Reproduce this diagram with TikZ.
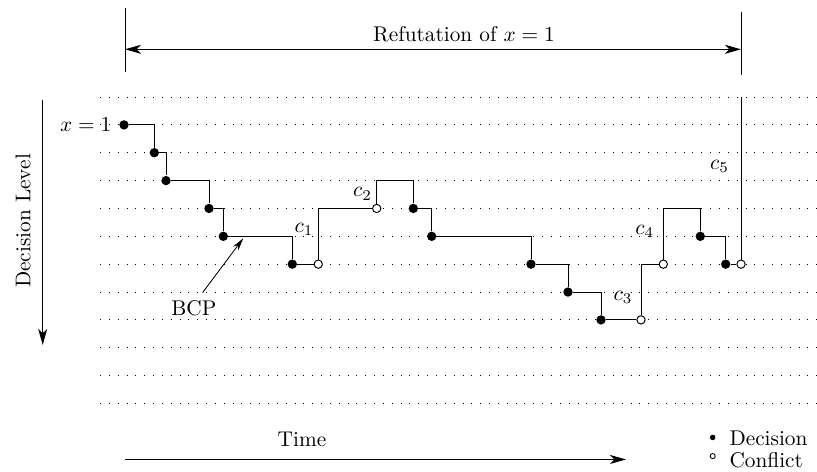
\documentclass[tikz,border=0pt]{standalone}
\usepackage{amsmath}
\usetikzlibrary{positioning}
\usetikzlibrary{arrows.meta}

\begin{document}
\begin{tikzpicture}
    [x=0.0165cm, y=-0.4595cm,
    decision/.style={circle, fill=black, inner sep=0pt, minimum size=4.4pt},
    conflict/.style={circle, draw, fill=white, inner sep=0pt, minimum size=3.9pt, line width=0.45pt},
    keydot/.style={circle, fill=black, inner sep=0pt, minimum size=2.6pt},
    keyring/.style={circle, draw, inner sep=0pt, minimum size=2.4pt, line width=0.4pt},
    levelline/.style={line width=0.45pt, dash pattern=on 0.45pt off 3.7pt},
    trail/.style={line width=0.45pt},
    bigarrow/.style={line width=0.5pt, >={Stealth[length=7.5pt, width=4.2pt, inset=2pt]}},
    smallarrow/.style={line width=0.4pt, >={Stealth[length=6pt, width=3pt]}}]
     \useasboundingbox (0, -3.483) rectangle (817, 13.429);
     % one dotted line per decision level
     \draw[levelline] (100, 0) -- (817, 0);
     \draw[levelline] (100, 1) -- (817, 1);
     \draw[levelline] (100, 2) -- (817, 2);
     \draw[levelline] (100, 3) -- (817, 3);
     \draw[levelline] (100, 4) -- (817, 4);
     \draw[levelline] (100, 5) -- (817, 5);
     \draw[levelline] (100, 6) -- (817, 6);
     \draw[levelline] (100, 7) -- (817, 7);
     \draw[levelline] (100, 8) -- (817, 8);
     \draw[levelline] (100, 9) -- (817, 9);
     \draw[levelline] (100, 10) -- (817, 10);
     \draw[levelline] (100, 11) -- (817, 11);
     % span of the refutation
     \draw[line width=0.4pt] (125, -3.185) -- (125, -0.908);
     \draw[line width=0.4pt] (741, -3.063) -- (741, -0.790);
     \coordinate (rl) at (125, -1.713);
     \coordinate (rr) at (741, -1.713);
     \draw[bigarrow, <->] (rl) -- (rr);
     \node[above] (refut) at (464, -1.713) {Refutation of $x=1$};
     % axes
     \node[rotate=90] (dl) at (23, 4.45) {Decision Level};
     \coordinate (dltop) at (42.7, 0.11);
     \coordinate (dlbot) at (42.7, 8.9);
     \draw[bigarrow, ->] (dltop) -- (dlbot);
     \node (time) at (302, 12.30) {Time};
     \coordinate (tl) at (125, 13.01);
     \coordinate (tr) at (626, 13.01);
     \draw[bigarrow, ->] (tl) -- (tr);
     % decisions and conflicts
     \node[decision] (d1) at (124, 1)     {};
     \node[decision] (d2) at (154.3, 2)   {};
     \node[decision] (d3) at (166, 3)     {};
     \node[decision] (d4) at (209, 4)     {};
     \node[decision] (d5) at (223.3, 5)   {};
     \node[decision] (d6) at (292.3, 6)   {};
     \node[conflict] (c1) at (318.3, 6)   {};
     \node[conflict] (c2) at (376.7, 4)   {};
     \node[decision] (d7) at (413.3, 4)   {};
     \node[decision] (d8) at (431.7, 5)   {};
     \node[decision] (d9) at (531, 6)     {};
     \node[decision] (d10) at (568, 7)    {};
     \node[decision] (d11) at (601, 8)    {};
     \node[conflict] (c3) at (641, 8)     {};
     \node[conflict] (c4) at (663.3, 6)   {};
     \node[decision] (d12) at (700.3, 5)  {};
     \node[decision] (d13) at (725.7, 6)  {};
     \node[conflict] (c5) at (741, 6)     {};
     \coordinate (b2) at (413.3, 3);
     \coordinate (b4) at (700.3, 4);
     \coordinate (b5) at (741, 0);
     \node[left=0pt of d1] (xeq) {$x=1$};
     % the trail through the levels
     \draw[trail] (d1) -| (d2) -| (d3) -| (d4) -| (d5) -| (d6) -- (c1);
     \draw[trail] (c1) |- (c2);
     \draw[trail] (c2) |- (b2) -- (d7);
     \draw[trail] (d7) -| (d8) -| (d9) -| (d10) -| (d11) -- (c3);
     \draw[trail] (c3) |- (c4);
     \draw[trail] (c4) |- (b4) -- (d12);
     \draw[trail] (d12) -| (d13) -- (c5);
     \draw[trail] (c5) -- (b5);
     % conflict clauses
     \node (lc1) at (304, 4.75)   {$c_1$};
     \node (lc2) at (362.5, 3.48) {$c_2$};
     \node (lc3) at (623, 7.20)   {$c_3$};
     \node (lc4) at (644.7, 4.83) {$c_4$};
     \node (lc5) at (719.5, 2.50) {$c_5$};
     % propagation
     \node (bcp) at (193.8, 7.57) {BCP};
     \coordinate (bcptip) at (243.3, 5.07);
     \draw[smallarrow, ->] (bcp.60) -- (bcptip);
     % key
     \node[keydot] (kd) at (712.7, 12.22)  {};
     \node[keyring] (kc) at (712.7, 12.89) {};
     \node[anchor=base west] (kdt) at (722, 12.50) {Decision};
     \node[anchor=base west] (kct) at (722, 13.30) {Conflict};
\end{tikzpicture}
\end{document}
